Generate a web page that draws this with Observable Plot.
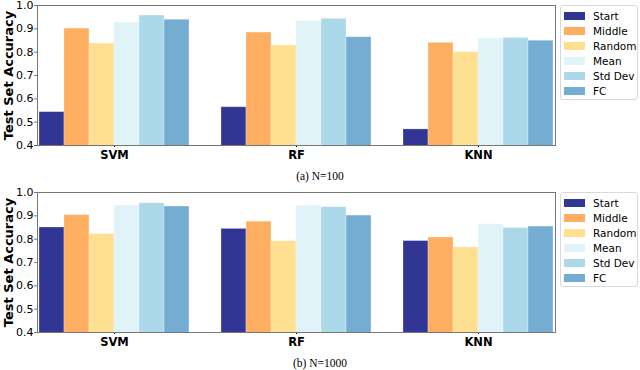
<!DOCTYPE html>
<html>
<head>
<meta charset="utf-8">
<script src="https://cdn.jsdelivr.net/npm/d3@7"></script>
<script src="https://cdn.jsdelivr.net/npm/@observablehq/plot@0.6"></script>
<style>
  html, body { margin: 0; padding: 0; background: #fff; }
  #wrap { position: relative; width: 640px; height: 370px; font-family: "DejaVu Sans", sans-serif; }
  .panel { position: absolute; left: 0; width: 640px; }
  .legend { position: absolute; left: 560px; top: 5px; width: 78px; height: 95px; border: 1px solid #d9d9d9; border-radius: 3px; background: #fff; box-sizing: border-box; }
  .legend .row { position: absolute; left: 3px; height: 15px; display: flex; align-items: center; font-size: 10.5px; color: #000; }
  .legend .sw { width: 21px; height: 8px; margin-right: 8px; }
  .caption { position: absolute; left: 0; width: 640px; text-align: center; font-family: "Liberation Serif", "Times New Roman", serif; font-size: 11.5px; color: #000; }
</style>
</head>
<body>
<div id="wrap"></div>
<script>
const classifiers = ["SVM", "RF", "KNN"];
const methods = ["Start", "Middle", "Random", "Mean", "Std Dev", "FC"];
const colors = ["#313695", "#fdae61", "#fee090", "#e0f3f8", "#abd9e9", "#74add1"];
const yTicks = [0.4, 0.5, 0.6, 0.7, 0.8, 0.9, 1.0];
const captions = ["(a) N=100", "(b) N=1000"];

// accuracy per classifier, in method order
const n100 = {
  SVM: [0.543, 0.901, 0.837, 0.927, 0.957, 0.939],
  RF:  [0.564, 0.884, 0.829, 0.934, 0.943, 0.864],
  KNN: [0.469, 0.840, 0.800, 0.859, 0.861, 0.849]
};
const n1000 = {
  SVM: [0.850, 0.903, 0.822, 0.944, 0.954, 0.940],
  RF:  [0.844, 0.875, 0.791, 0.944, 0.937, 0.901],
  KNN: [0.792, 0.807, 0.765, 0.864, 0.848, 0.854]
};

function rows(obj) {
  const out = [];
  for (const c of classifiers) methods.forEach((m, i) => out.push({clf: c, method: m, value: obj[c][i]}));
  return out;
}

function panel(data) {
  return Plot.plot({
    width: 640,
    height: 165,
    marginLeft: 36,
    marginRight: 85,
    marginTop: 5,
    marginBottom: 20,
    style: {fontFamily: "DejaVu Sans, sans-serif", color: "#000", background: "transparent", overflow: "visible"},
    fx: {domain: classifiers, padding: 0.155},
    x: {domain: methods, padding: 0, axis: null},
    y: {domain: [0.4, 1.0]},
    color: {domain: methods, range: colors},
    marks: [
      Plot.barY(data, {fx: "clf", x: "method", y: "value", fill: "method", stroke: "#ffffff", strokeOpacity: 0.35, strokeWidth: 0.8, clip: true}),
      Plot.axisY({ticks: yTicks, tickFormat: ".1f", tickSize: 3, tickPadding: 1, fontSize: 11, stroke: "#777", label: null}),
      Plot.axisY({ticks: [], label: "Test Set Accuracy", labelAnchor: "center", labelArrow: "none", labelOffset: 34, fontSize: 13, fontWeight: "bold"}),
      Plot.axisFx({anchor: "bottom", label: null, tickSize: 2, tickPadding: 3, fontSize: 11.5, fontWeight: "bold"}),
      Plot.frame({facet: "super", stroke: "#777", strokeWidth: 1})
    ]
  });
}

const wrap = document.getElementById("wrap");
[n100, n1000].forEach((d, k) => {
  const top = k * 187;
  const p = document.createElement("div");
  p.className = "panel";
  p.style.top = top + "px";
  p.appendChild(panel(rows(d)));
  wrap.appendChild(p);

  const lg = document.createElement("div");
  lg.className = "legend";
  lg.style.top = (top + 5) + "px";
  methods.forEach((m, i) => {
    const r = document.createElement("div");
    r.className = "row";
    r.style.top = (2 + i * 15) + "px";
    const sw = document.createElement("span");
    sw.className = "sw";
    sw.style.background = colors[i];
    r.appendChild(sw);
    r.appendChild(document.createTextNode(m));
    lg.appendChild(r);
  });
  wrap.appendChild(lg);

  const cap = document.createElement("div");
  cap.className = "caption";
  cap.style.top = (top + 170) + "px";
  cap.textContent = captions[k];
  wrap.appendChild(cap);
});
</script>
</body>
</html>
